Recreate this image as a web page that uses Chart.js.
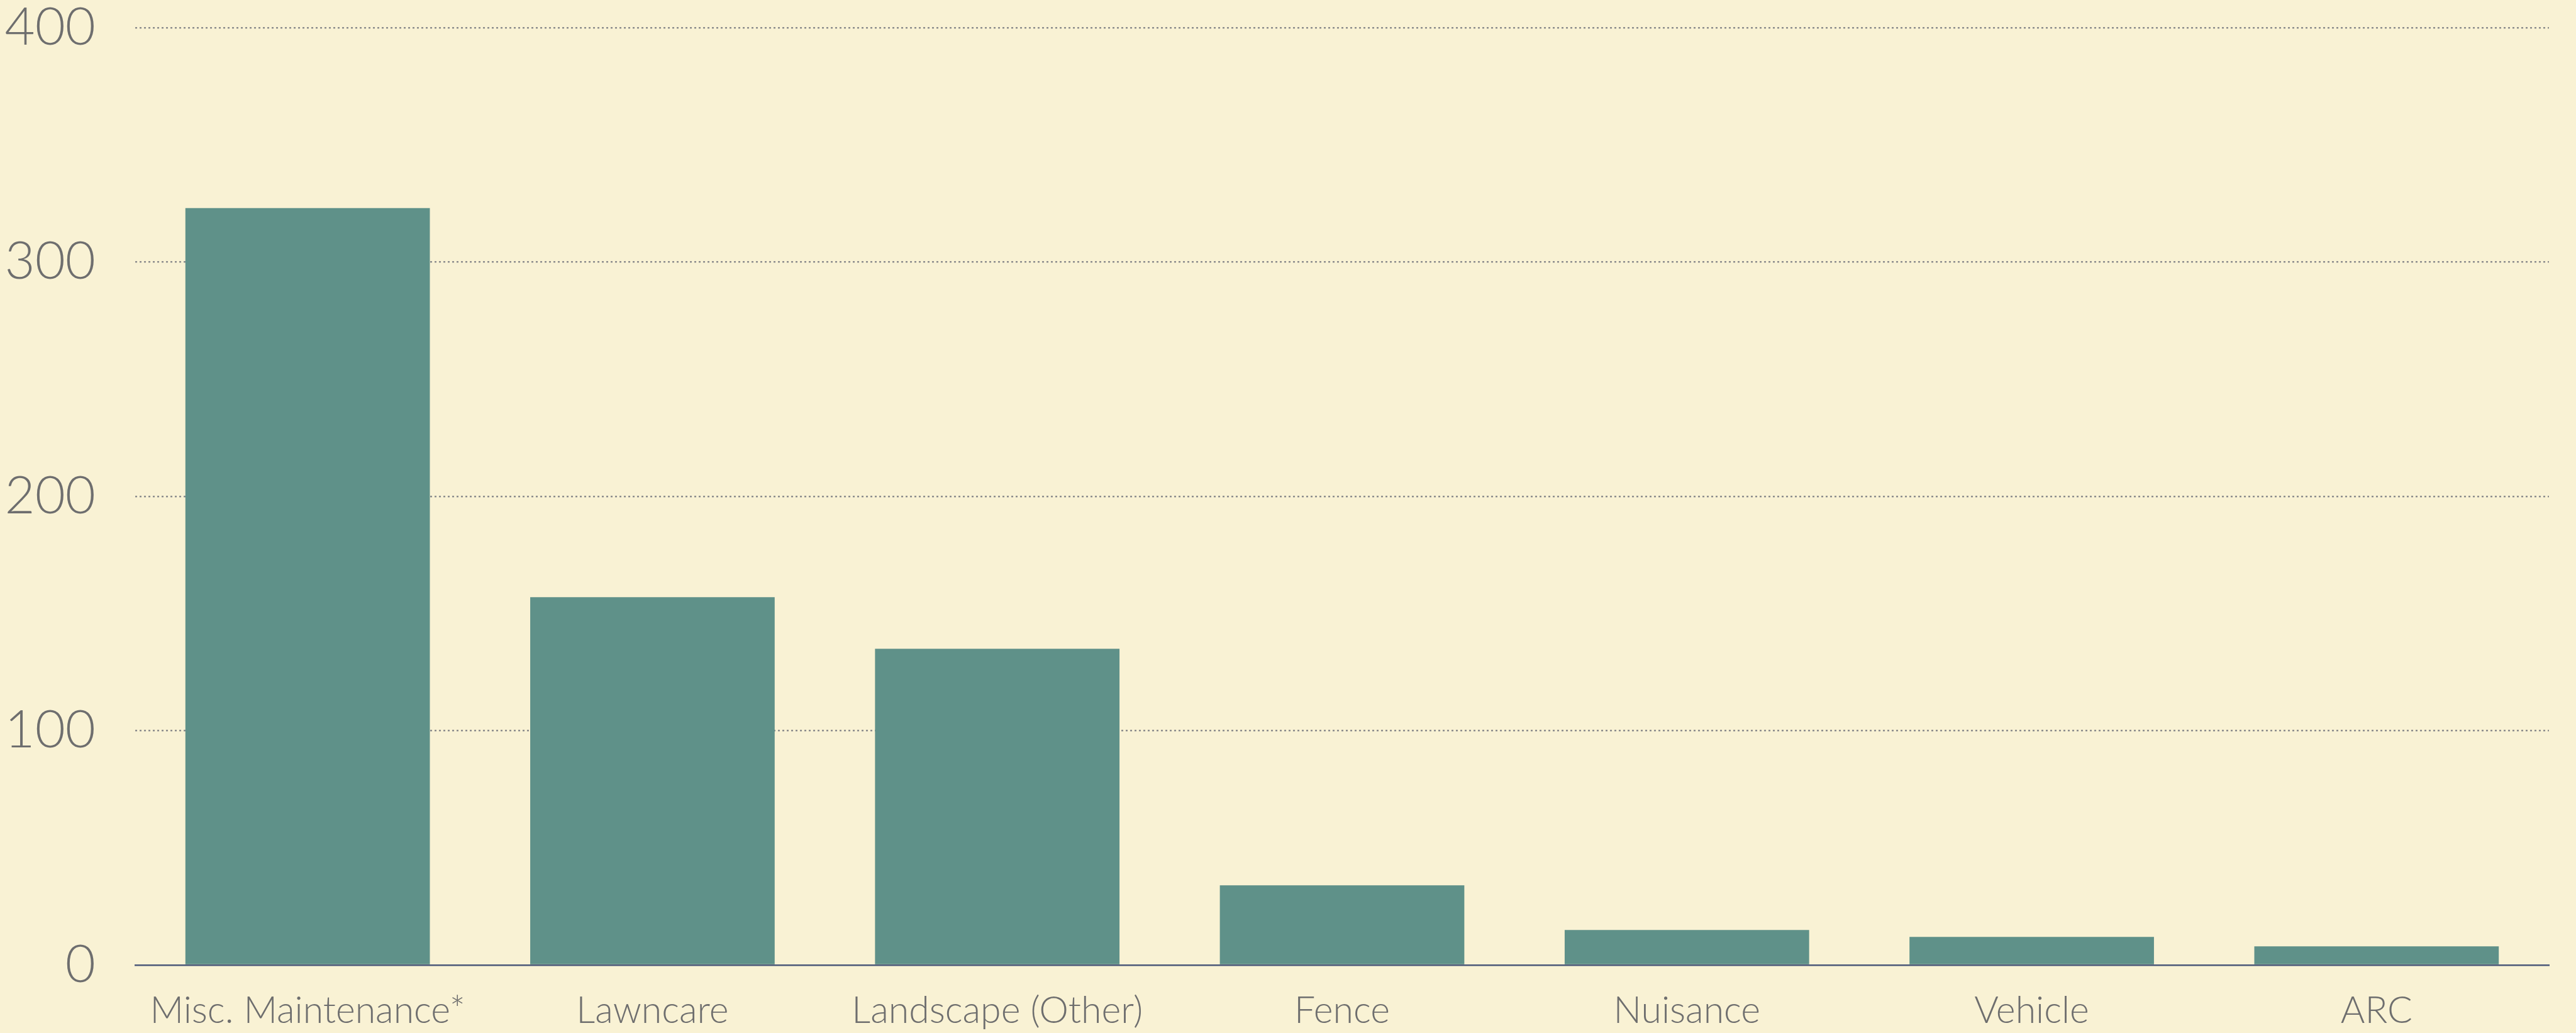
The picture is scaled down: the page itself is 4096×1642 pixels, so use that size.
<!DOCTYPE html>
<html>
<head>
<meta charset="utf-8">
<script src="https://cdn.jsdelivr.net/npm/chart.js@4/dist/chart.umd.min.js"></script>
<style>
  html, body { margin: 0; padding: 0; background: #f9f2d4; }
  #wrap { width: 4096px; height: 1642px; position: relative; }
</style>
</head>
<body>
<div id="wrap"><canvas id="graficoCasos"></canvas></div>
<script>
var categorias = ['Misc. Maintenance*', 'Lawncare', 'Landscape (Other)', 'Fence', 'Nuisance', 'Vehicle', 'ARC'];
var valores = [323, 157, 135, 34, 15, 12, 8];
var ticksY = [0, 100, 200, 300, 400];

var corTexto = '#6e6e6e';
var fonte = 'Lato, "Open Sans", sans-serif';

var ctx = document.getElementById('graficoCasos').getContext('2d');

var grafico = new Chart(ctx, {
	type: 'bar',
	data: {
		labels: categorias,
		datasets: [
			{
				label: 'Casos',
				backgroundColor: '#5f9189',
				borderWidth: 0,
				data: valores,
				categoryPercentage: 1,
				barPercentage: 0.709
			}
		]
	},
	options: {
		responsive: true,
		maintainAspectRatio: false,
		animation: false,
		layout: { padding: { top: 44, right: 43, left: 0, bottom: 0 } },
		plugins: {
			legend: { display: false },
			tooltip: { enabled: false }
		},
		scales: {
			x: {
				grid: { display: false, drawTicks: false },
				border: { display: true, color: '#4b5878', width: 2.5 },
				ticks: {
					color: corTexto,
					padding: 43,
					maxRotation: 0,
					autoSkip: false,
					font: { family: fonte, size: 59, weight: '300', lineHeight: 1 }
				},
				afterFit: function(escala) {
					escala.height = 108;
					escala.paddingLeft = 0;
					escala.paddingRight = 0;
				}
			},
			y: {
				min: 0,
				max: 400,
				afterBuildTicks: function(escala) {
					escala.ticks = ticksY.map(function(v){ return { value: v }; });
				},
				grid: {
					drawTicks: false,
					color: function(c) { return c.tick.value === 0 ? 'rgba(0,0,0,0)' : '#8d8d8d'; },
					lineWidth: 2.5
				},
				border: { display: false, dash: [3, 4] },
				ticks: {
					color: corTexto,
					padding: 63,
					font: { family: fonte, size: 83, weight: '300', lineHeight: 1 }
				},
				afterFit: function(escala) {
					escala.width = 215;
					escala.paddingTop = 0;
					escala.paddingBottom = 0;
				}
			}
		}
	}
});
</script>
</body>
</html>
